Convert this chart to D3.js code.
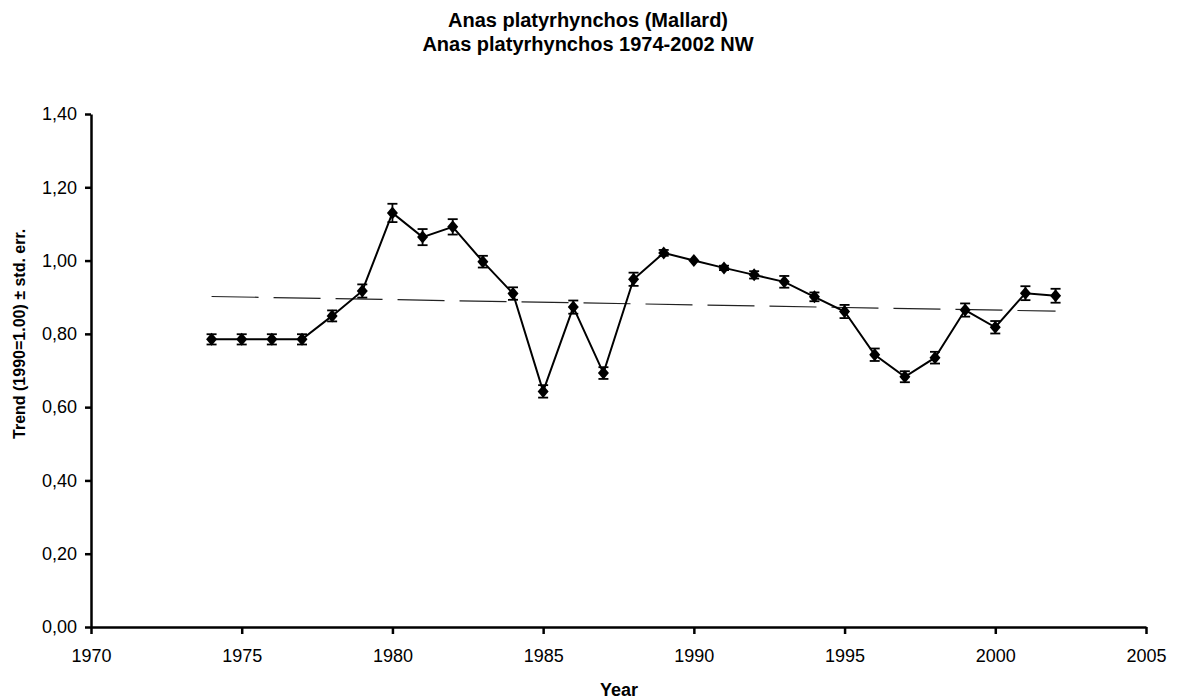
<!DOCTYPE html>
<html>
<head>
<meta charset="utf-8">
<script src="https://cdn.jsdelivr.net/npm/d3@7"></script>
<style>
  body { margin: 0; background: #fff; }
  text { font-family: Arial, "Liberation Sans", sans-serif; }
</style>
</head>
<body>
<div id="chart"></div>
<script>
let years = [1974, 1975, 1976, 1977, 1978, 1979, 1980, 1981, 1982, 1983, 1984, 1985, 1986, 1987, 1988,
  1989, 1990, 1991, 1992, 1993, 1994, 1995, 1996, 1997, 1998, 1999, 2000, 2001, 2002];
let trend = [0.785, 0.785, 0.785, 0.785, 0.849, 0.917, 1.130, 1.064, 1.092, 0.997, 0.910, 0.643, 0.873, 0.693, 0.949,
  1.021, 1.000, 0.980, 0.961, 0.942, 0.901, 0.861, 0.743, 0.683, 0.735, 0.865, 0.818, 0.911, 0.904];
let stdErr = [0.014, 0.014, 0.014, 0.014, 0.015, 0.018, 0.025, 0.022, 0.021, 0.016, 0.017, 0.017, 0.018, 0.016, 0.018,
  0.008, 0.000, 0.006, 0.010, 0.016, 0.012, 0.018, 0.017, 0.015, 0.016, 0.018, 0.017, 0.019, 0.019];
let trendLineYears = [1974, 2002];
let trendLineValues = [0.902, 0.862];
let xTicks = [1970, 1975, 1980, 1985, 1990, 1995, 2000, 2005];
let yTicks = [0, 0.2, 0.4, 0.6, 0.8, 1.0, 1.2, 1.4];

let width = 1177, height = 700;
let margin = {top: 114, right: 31, bottom: 73, left: 91};

let svg = d3.select('#chart').append('svg')
  .attr('width', width)
  .attr('height', height);

let x = d3.scaleLinear().domain([1970, 2005]).range([margin.left, width - margin.right]);
let y = d3.scaleLinear().domain([0, 1.4]).range([height - margin.bottom, margin.top]);

let fmt = function(v) { return d3.format('.2f')(v).replace('.', ','); };

// axes
let xAxis = svg.append('g')
  .attr('transform', 'translate(0,' + y(0) + ')')
  .call(d3.axisBottom(x).tickValues(xTicks).tickFormat(d3.format('d')).tickSize(7).tickSizeOuter(0));
let yAxis = svg.append('g')
  .attr('transform', 'translate(' + x(1970) + ',0)')
  .call(d3.axisLeft(y).tickValues(yTicks).tickFormat(fmt).tickSize(6).tickSizeOuter(0));

[xAxis, yAxis].forEach(function(a) {
  a.select('.domain').attr('stroke', '#000').attr('stroke-width', 2.5);
  a.selectAll('.tick line').attr('stroke', '#000').attr('stroke-width', 2.5);
  a.selectAll('.tick text').attr('fill', '#000').style('font-size', '18px');
});
xAxis.selectAll('.tick text').attr('y', 0).attr('dy', 35);
yAxis.selectAll('.tick text').attr('x', -14);

// titles
svg.append('text').attr('x', 588).attr('y', 27).attr('text-anchor', 'middle')
  .style('font-size', '20px').style('font-weight', 'bold').text('Anas platyrhynchos (Mallard)');
svg.append('text').attr('x', 588).attr('y', 51).attr('text-anchor', 'middle')
  .style('font-size', '20px').style('font-weight', 'bold').text('Anas platyrhynchos 1974-2002 NW');
svg.append('text').attr('x', 619).attr('y', 696).attr('text-anchor', 'middle')
  .style('font-size', '18px').style('font-weight', 'bold').text('Year');
svg.append('text').attr('transform', 'translate(25,' + y(0.8) + ') rotate(-90)').attr('text-anchor', 'middle')
  .style('font-size', '16px').style('font-weight', 'bold').text('Trend (1990=1.00) \u00b1 std. err.');

// linear trend (dashed)
let tl = trendLineYears.map(function(yr, i) { return {year: yr, value: trendLineValues[i]}; });
svg.append('path')
  .datum(tl)
  .attr('fill', 'none')
  .attr('stroke', '#222')
  .attr('stroke-width', 1.2)
  .attr('stroke-dasharray', '47,15')
  .attr('d', d3.line().x(function(d) { return x(d.year); }).y(function(d) { return y(d.value); }));

let data = years.map(function(yr, i) { return {year: yr, value: trend[i], err: stdErr[i]}; });

// main series
svg.append('path')
  .datum(data)
  .attr('fill', 'none')
  .attr('stroke', '#000')
  .attr('stroke-width', 2)
  .attr('d', d3.line().x(function(d) { return x(d.year); }).y(function(d) { return y(d.value); }));

// error bars
let eb = svg.append('g').attr('stroke', '#000').attr('stroke-width', 1.8);
data.filter(function(d) { return d.err > 0; }).forEach(function(d) {
  let cx = x(d.year);
  eb.append('line').attr('x1', cx).attr('x2', cx).attr('y1', y(d.value + d.err)).attr('y2', y(d.value - d.err));
  eb.append('line').attr('x1', cx - 5).attr('x2', cx + 5).attr('y1', y(d.value + d.err)).attr('y2', y(d.value + d.err));
  eb.append('line').attr('x1', cx - 5).attr('x2', cx + 5).attr('y1', y(d.value - d.err)).attr('y2', y(d.value - d.err));
});

// markers
svg.append('g').selectAll('path.marker')
  .data(data)
  .enter().append('path')
  .attr('class', 'marker')
  .attr('transform', function(d) { return 'translate(' + x(d.year) + ',' + y(d.value) + ')'; })
  .attr('d', 'M0,-6.5L5.5,0L0,6.5L-5.5,0Z')
  .attr('fill', '#000');
</script>
</body>
</html>
